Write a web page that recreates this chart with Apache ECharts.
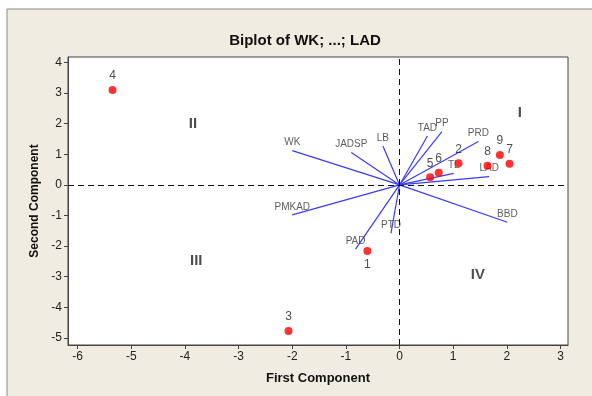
<!DOCTYPE html>
<html>
<head>
<meta charset="utf-8">
<script src="https://cdn.jsdelivr.net/npm/echarts@6/dist/echarts.min.js"></script>
<style>
html,body{margin:0;padding:0;background:#fff;}
#c{width:592px;height:396px;}
</style>
</head>
<body>
<div id="c"></div>
<script>
// Observations (scores)
const obsLabels = ['1','2','3','4','5','6','7','8','9'];
const obsX = [-0.60, 1.10, -2.07, -5.35, 0.57, 0.73, 2.05, 1.64, 1.87];
const obsY = [-2.16, 0.71, -4.77, 3.10, 0.25, 0.40, 0.69, 0.63, 0.98];
const obsLabelPos = ['bottom','top','top','top','top','top','top','top','top'];

// Variables (loadings vectors)
const varNames = ['WK','JADSP','LB','TAD','PP','PRD','TL','LAD','PMKAD','PAD','PTD','BBD'];
const varX = [-2.00, -0.90, -0.31, 0.52, 0.79, 1.47, 1.01, 1.67, -2.00, -0.82, -0.16, 2.01];
const varY = [1.12, 1.06, 1.27, 1.60, 1.74, 1.42, 0.38, 0.27, -0.98, -2.10, -1.58, -1.22];

// Quadrant labels
const quadNames = ['I','II','III','IV'];
const quadX = [2.24, -3.85, -3.79, 1.46];
const quadY = [2.35, 1.99, -2.48, -2.94];

// Tick labels
const xTicks = [-6,-5,-4,-3,-2,-1,0,1,2,3];
const yTicks = [-5,-4,-3,-2,-1,0,1,2,3,4];

const FONT = 'Liberation Sans';
const chart = echarts.init(document.getElementById('c'), null, {renderer:'canvas'});

const vectorSeries = varNames.map((n, i) => ({
  type: 'line',
  data: [[0, 0], [varX[i], varY[i]]],
  showSymbol: false,
  symbol: 'none',
  lineStyle: {color: '#3b3bf5', width: 1.2},
  silent: true,
  z: 3,
  animation: false
}));

const option = {
  backgroundColor: '#ffffff',
  animation: false,
  graphic: [{
    type: 'rect',
    shape: {x: 7, y: 9, width: 620, height: 420},
    style: {fill: '#f0ece2', stroke: '#8a8a8a', lineWidth: 1},
    z: -10, silent: true
  }],
  title: {
    text: 'Biplot of WK; ...; LAD',
    left: 300, top: 28, textAlign: 'center',
    textStyle: {fontFamily: FONT, fontSize: 15, fontWeight: 'bold', color: '#111'}
  },
  grid: {
    left: 68, right: 24, top: 57, bottom: 51,
    show: true, backgroundColor: '#ffffff', borderColor: '#444', borderWidth: 1
  },
  xAxis: {
    type: 'value', min: -6.18, max: 3.14,
    name: 'First Component', nameLocation: 'middle', nameGap: 27,
    nameTextStyle: {fontFamily: FONT, fontSize: 13, fontWeight: 'bold', color: '#111'},
    axisLine: {show: true, onZero: false, lineStyle: {color: '#444'}},
    axisTick: {show: true, inside: false, length: 4, customValues: xTicks, lineStyle: {color: '#444'}},
    axisLabel: {customValues: xTicks, fontFamily: FONT, fontSize: 12, color: '#222', margin: 6},
    splitLine: {show: false}
  },
  yAxis: {
    type: 'value', min: -5.23, max: 4.18,
    name: 'Second Component', nameLocation: 'middle', nameGap: 26, nameRotate: 90,
    nameTextStyle: {fontFamily: FONT, fontSize: 12, fontWeight: 'bold', color: '#111'},
    axisLine: {show: true, onZero: false, lineStyle: {color: '#444'}},
    axisTick: {show: true, inside: false, length: 4, customValues: yTicks, lineStyle: {color: '#444'}},
    axisLabel: {customValues: yTicks, fontFamily: FONT, fontSize: 12, color: '#222', margin: 6},
    splitLine: {show: false}
  },
  series: [
    {
      type: 'scatter', data: [], silent: true, z: 1,
      markLine: {
        silent: true, symbol: 'none', animation: false,
        label: {show: false},
        lineStyle: {color: '#111', type: [6, 4], width: 1},
        data: [{xAxis: 0}, {yAxis: 0}]
      }
    },
    ...vectorSeries,
    {
      type: 'scatter', z: 4, silent: true,
      symbolSize: 0,
      data: varNames.map((n, i) => [varX[i], varY[i], n]),
      label: {
        show: true, position: 'top', distance: 3,
        formatter: p => p.data[2],
        fontFamily: FONT, fontSize: 10, color: '#333'
      }
    },
    {
      type: 'scatter', z: 5, silent: true,
      symbol: 'circle', symbolSize: 8,
      itemStyle: {color: '#ff0000'},
      data: obsLabels.map((n, i) => ({
        value: [obsX[i], obsY[i], n],
        label: {position: obsLabelPos[i]}
      })),
      label: {
        show: true, distance: 4,
        formatter: p => p.data.value[2],
        fontFamily: FONT, fontSize: 12, color: '#222'
      }
    },
    {
      type: 'scatter', z: 5, silent: true,
      symbolSize: 0,
      data: quadNames.map((n, i) => [quadX[i], quadY[i], n]),
      label: {
        show: true, position: 'inside',
        formatter: p => p.data[2],
        fontFamily: FONT, fontSize: 15, fontWeight: 'bold', color: '#222'
      }
    }
  ]
};
chart.setOption(option);
</script>
</body>
</html>
